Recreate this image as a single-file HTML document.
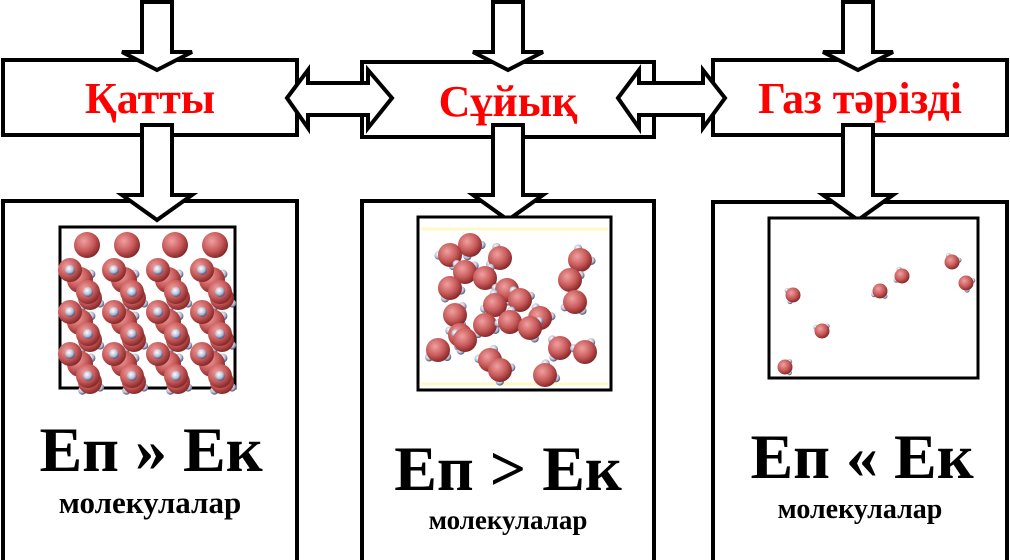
<!DOCTYPE html>
<html><head><meta charset="utf-8"><style>
html,body{margin:0;padding:0;background:#fff;width:1010px;height:560px;overflow:hidden}
svg{display:block}
.t{font-family:"Liberation Serif",serif;font-weight:bold;text-anchor:middle}
</style></head><body>
<svg id="s" width="1010" height="560" viewBox="0 0 1010 560" xmlns="http://www.w3.org/2000/svg">
<defs>
<radialGradient id="o" cx="0.38" cy="0.35" r="0.65"><stop offset="0" stop-color="#f0a0a0"/><stop offset="0.6" stop-color="#c85a5a"/><stop offset="1" stop-color="#8a2a2a"/></radialGradient>
<radialGradient id="h" cx="0.4" cy="0.35" r="0.65"><stop offset="0" stop-color="#ffffff"/><stop offset="0.6" stop-color="#b8bcd0"/><stop offset="1" stop-color="#4a5080"/></radialGradient>
</defs>
<g fill="#fff" stroke="#000" stroke-width="4" stroke-linejoin="miter">
<rect x="3" y="60" width="294" height="75"/>
<rect x="362" y="62" width="292" height="75"/>
<rect x="713" y="60" width="294" height="75"/>
<rect x="3" y="201" width="294" height="362"/>
<rect x="362" y="201" width="292" height="362"/>
<rect x="713" y="202" width="294" height="362"/>
<path d="M142,2 H172 V52 H192 L157,70 L122,52 H142 Z"/>
<path d="M493,2 H523 V52 H543 L508,70 L473,52 H493 Z"/>
<path d="M843,2 H873 V52 H893 L858,70 L823,52 H843 Z"/>
<path d="M142,125 H172 V195 H192 L157,220 L122,195 H142 Z"/>
<path d="M493,125 H523 V195 H543 L508,220 L473,195 H493 Z"/>
<path d="M843,125 H873 V195 H893 L858,220 L823,195 H843 Z"/>
<path d="M287,98 L308,70 V83 H368 V70 L392,98 L368,128 V115 H308 V128 Z"/>
<path d="M618,98 L639,70 V83 H703 V70 L725,98 L703,128 V115 H639 V128 Z"/>
<rect x="60" y="227" width="175" height="161" stroke-width="3"/>
<rect x="418" y="217" width="193" height="173" stroke-width="3"/>
<rect x="769" y="218" width="209" height="160" stroke-width="3"/>
</g>
<line x1="421" y1="229" x2="608" y2="229" stroke="#fff8c8" stroke-width="3"/>
<line x1="421" y1="384" x2="608" y2="384" stroke="#fff8c8" stroke-width="3"/>
<g id="mol"></g>
<text class="t" x="150" y="113" font-size="44" fill="#f00">Қатты</text>
<text class="t" x="508" y="116" font-size="44" fill="#f00">Сұйық</text>
<text class="t" x="860" y="113" font-size="44" fill="#f00">Газ тәрізді</text>
<text class="t" x="151" y="471" font-size="64">Еп » Ек</text>
<text class="t" x="150" y="513" font-size="31">молекулалар</text>
<text class="t" x="508" y="490" font-size="64">Еп &gt; Ек</text>
<text class="t" x="508" y="529" font-size="27">молекулалар</text>
<text class="t" x="862" y="478" font-size="64">Еп « Ек</text>
<text class="t" x="860" y="518" font-size="28">молекулалар</text>
</svg>
<script>
var g=document.getElementById('mol'),ns='http://www.w3.org/2000/svg';
function c(x,y,r,f){var e=document.createElementNS(ns,'circle');e.setAttribute('cx',x);e.setAttribute('cy',y);e.setAttribute('r',r);e.setAttribute('fill','url(#'+f+')');g.appendChild(e);}
function m(x,y,r,a){var d=r*0.95,hr=r*0.35;c(x+d*Math.cos(a),y+d*Math.sin(a),hr,'h');c(x+d*Math.cos(a+1.8),y+d*Math.sin(a+1.8),hr,'h');c(x,y,r,'o');}
var xs=[87,127,175,215];
for(var i=0;i<4;i++){c(xs[i],245,13,'o');}
for(var row=0;row<3;row++){for(var i=0;i<4;i++){var x=70+i*44,y=270+row*42;m(x+10,y+10,13,-0.5);c(x,y,12,'o');c(x,y,5,'h');m(x+20,y+28,12,0.5);c(x+18,y+22,12,'o');c(x+18,y+22,5,'h');}}
var L=[[470,245],[450,255],[500,258],[465,272],[485,278],[450,288],[507,290],[495,305],[520,300],[455,315],[485,325],[460,335],[510,322],[540,318],[530,328],[438,350],[465,340],[490,360],[580,260],[570,280],[575,302],[560,348],[585,352],[545,375],[500,370]];
L.forEach(function(p,i){m(p[0],p[1],12,i*1.3);});
[[793,295],[822,331],[785,367],[880,291],[902,276],[952,262],[966,283]].forEach(function(p,i){m(p[0],p[1],7.5,i*1.7+2);});
</script>
</body></html>
